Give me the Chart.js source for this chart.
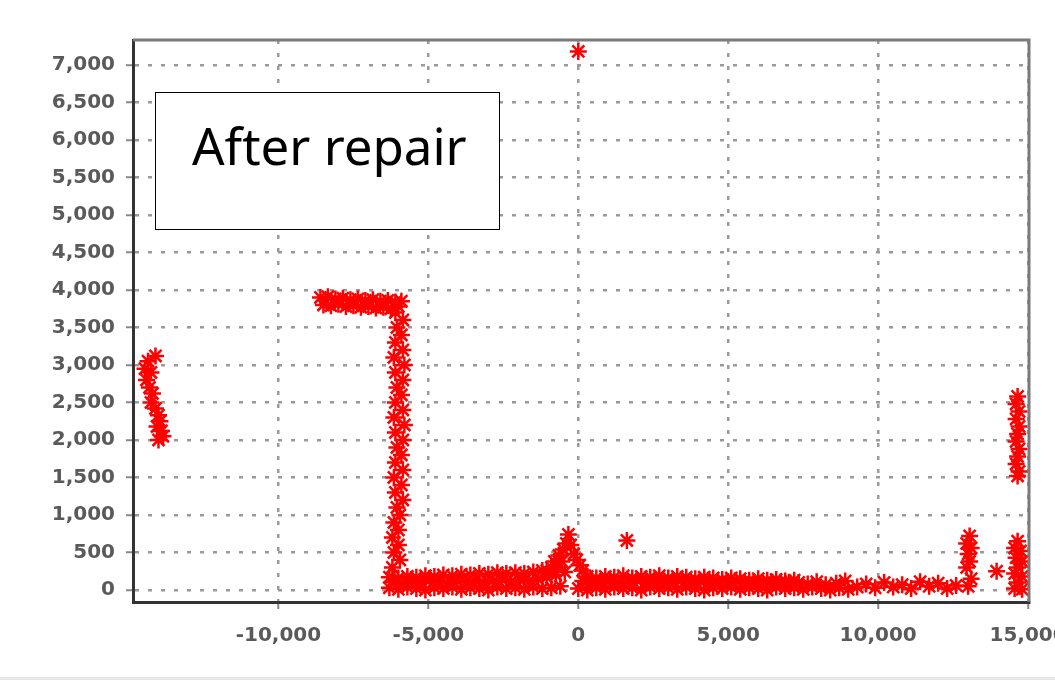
<!DOCTYPE html>
<html>
<head>
<meta charset="utf-8">
<script src="https://cdn.jsdelivr.net/npm/chart.js@4/dist/chart.umd.min.js"></script>
<style>
    html, body {
        margin: 0;
        padding: 0;
        width: 1055px;
        height: 680px;
        overflow: hidden;
        background: #ffffff;
    }
    #chart-wrap {
        position: absolute;
        left: 0;
        top: 0;
        width: 1100px;
        height: 680px;
        filter: blur(0.5px);
    }
    #label-box {
        position: absolute;
        left: 155px;
        top: 92px;
        width: 343px;
        height: 136px;
        border: 1px solid #000;
        background: #fff;
        z-index: 2;
    }
    #label-box span {
        position: absolute;
        left: 36px;
        top: 27px;
        font-family: 'Noto Sans', sans-serif;
        font-size: 51px;
        line-height: 1;
        color: #000;
        white-space: nowrap;
    }
    #bottom-strip {
        position: absolute;
        left: 0;
        top: 677px;
        width: 1055px;
        height: 3px;
        background: #e6e6e6;
    }
</style>
</head>
<body>
<div id="chart-wrap"><canvas id="scatter-chart"></canvas></div>
<div id="label-box"><span>After repair</span></div>
<div id="bottom-strip"></div>
<script>
// axis limits and tick values
const xMin = -14850;
const xMax = 15030;
const xTickValues = [-10000, -5000, 0, 5000, 10000, 15000];
const yMin = -160;
const yMax = 7333;
const yTickValues = [0, 500, 1000, 1500, 2000, 2500, 3000, 3500, 4000, 4500, 5000, 5500, 6000, 6500, 7000];

// clusters, [x, y]
const leftCluster = [
    [-14100, 3120], [-14350, 3050], [-14450, 2950], [-14250, 2900], [-14400, 2800],
    [-14300, 2700], [-14200, 2620], [-14250, 2500], [-14100, 2420], [-14000, 2330],
    [-13950, 2250], [-14050, 2180], [-13900, 2120], [-13850, 2050], [-14000, 2000]
];

const upperBand = [
    [-8600, 3900], [-8350, 3910], [-8100, 3880], [-7850, 3890], [-7600, 3870], [-7350, 3880],
    [-7100, 3860], [-6850, 3870], [-6600, 3850], [-6350, 3860], [-6100, 3840], [-5900, 3850],
    [-8500, 3800], [-8250, 3790], [-8000, 3810], [-7750, 3780], [-7500, 3790], [-7250, 3770],
    [-7000, 3780], [-6750, 3760], [-6500, 3770], [-6250, 3750], [-6000, 3780]
];

const verticalBand = [
    [-6100, 3700], [-6050, 3500], [-6100, 3300], [-6150, 3100], [-6100, 2900], [-6050, 2700],
    [-6100, 2500], [-6150, 2300], [-6100, 2100], [-6050, 1900], [-6100, 1700], [-6150, 1500],
    [-6100, 1300], [-6050, 1100], [-6150, 900], [-6200, 700], [-6150, 500], [-6200, 300],
    [-5850, 3600], [-5900, 3400], [-5850, 3200], [-5800, 3000], [-5850, 2800], [-5900, 2600],
    [-5850, 2400], [-5800, 2200], [-5850, 2000], [-5900, 1800], [-5850, 1600], [-5900, 1400],
    [-5850, 1200], [-5950, 1000], [-6000, 800], [-6000, 600], [-5950, 400]
];

const bottomLow = [
    [-6300, 30], [-6000, 10], [-5700, 40], [-5400, 20], [-5100, 0], [-4800, 30], [-4500, 20],
    [-4200, 40], [-3900, 10], [-3600, 30], [-3300, 20], [-3000, 0], [-2700, 40], [-2400, 20],
    [-2100, 30], [-1800, 10], [-1500, 40], [-1200, 20], [-900, 30], [-600, 50], [0, 20],
    [300, 0], [600, 30], [900, 10], [1200, 40], [1500, 20], [1800, 30], [2100, 0], [2400, 40],
    [2700, 20], [3000, 30], [3300, 10], [3600, 40], [3900, 20], [4200, 0], [4500, 30], [4800, 20],
    [5100, 40], [5400, 10], [5700, 30], [6000, 20], [6300, 0], [6600, 40], [6900, 20], [7200, 30],
    [7500, 10], [7800, 40], [8100, 20], [8400, 0], [8700, 30], [9000, 10], [9300, 40]
];

const bottomMid = [
    [-6150, 110], [-5850, 90], [-5550, 120], [-5250, 100], [-4950, 130], [-4650, 110], [-4350, 90],
    [-4050, 120], [-3750, 110], [-3450, 130], [-3150, 100], [-2850, 120], [-2550, 140], [-2250, 110],
    [-1950, 130], [-1650, 120], [-1350, 150], [-1050, 170], [-750, 200], [-450, 240], [150, 120],
    [450, 110], [750, 100], [1050, 120], [1350, 90], [1650, 110], [1950, 130], [2250, 100],
    [2550, 120], [2850, 90], [3150, 110], [3450, 130], [3750, 100], [4050, 120], [4350, 90],
    [4650, 110], [4950, 100], [5250, 120], [5550, 90], [5850, 110], [6150, 100], [6450, 80],
    [6750, 110], [7050, 90], [7350, 100], [7650, 80], [7950, 110], [8250, 70]
];

const bottomTop = [
    [-6300, 170], [-6000, 160], [-5700, 180], [-5400, 170], [-5100, 190], [-4800, 180], [-4500, 200],
    [-4200, 190], [-3900, 210], [-3600, 200], [-3300, 220], [-3000, 210], [-2700, 230], [-2400, 220],
    [-2100, 230], [-1800, 220], [-1500, 240], [-1200, 260], [-900, 300], [300, 180], [600, 160],
    [900, 180], [1200, 170], [1500, 190], [1800, 160], [2100, 180], [2400, 170], [2700, 190],
    [3000, 160], [3300, 180], [3600, 170], [3900, 150], [4200, 170], [4500, 160], [4800, 140],
    [5100, 160], [5400, 150], [5700, 130], [6000, 150], [6300, 130], [6600, 140], [6900, 120],
    [7200, 130]
];

const spike = [
    [-1050, 260], [-800, 380], [-700, 300], [-650, 460], [-550, 380], [-500, 540], [-400, 620],
    [-330, 740], [-250, 600], [-150, 480], [-50, 400], [50, 330], [150, 260], [250, 170], [350, 80]
];

const sparseTail = [
    [8600, 90], [8900, 120], [9600, 80], [9900, 30], [10200, 100], [10500, 40], [10800, 70],
    [11100, 20], [11400, 110], [11700, 50], [12000, 90], [12300, 20], [12600, 60]
];

const rightCluster = [
    [13050, 720], [12950, 620], [13100, 560], [13000, 480], [13050, 380], [12950, 300],
    [13100, 150], [13000, 50], [13950, 250]
];

const rightLowColumn = [
    [14650, 650], [14550, 560], [14750, 520], [14600, 430], [14800, 380], [14650, 300],
    [14550, 220], [14800, 180], [14650, 100], [14550, 20], [14800, 10]
];

const rightHighColumn = [
    [14650, 2580], [14600, 2480], [14700, 2380], [14600, 2280], [14700, 2180], [14650, 2080],
    [14600, 1980], [14700, 1880], [14650, 1780], [14600, 1680], [14700, 1580], [14650, 1520]
];

const outliers = [
    [0, 7180], [1620, 660]
];

let scatterChart = null;

document.addEventListener('DOMContentLoaded', () => {
    initScatterChart();
});

function toPoints(list) {
    return list.map(p => ({ x: p[0], y: p[1] }));
}

function useTicks(values) {
    return (scale) => {
        scale.ticks = values.map(v => ({ value: v }));
    };
}

// top and right frame lines (left/bottom come from the axes)
const frameLines = {
    id: 'frameLines',
    afterDraw(chart) {
        const { ctx, chartArea } = chart;
        ctx.save();
        ctx.strokeStyle = '#7a7a7a';
        ctx.lineWidth = 3;
        ctx.beginPath();
        ctx.moveTo(chartArea.left, chartArea.top);
        ctx.lineTo(chartArea.right, chartArea.top);
        ctx.lineTo(chartArea.right, chartArea.bottom);
        ctx.stroke();
        ctx.restore();
    }
};

function initScatterChart() {
    const ctx = document.getElementById('scatter-chart').getContext('2d');

    const allPoints = [].concat(
        leftCluster, upperBand, verticalBand, bottomLow, bottomMid, bottomTop,
        spike, sparseTail, rightCluster, rightLowColumn, rightHighColumn, outliers
    );

    const tickFont = { family: 'DejaVu Sans', size: 20, weight: 'bold' };
    const gridStyle = {
        color: '#9a9a9a',
        lineWidth: 2.5,
        tickLength: 7,
        tickColor: '#888',
        tickWidth: 2,
        tickBorderDash: []
    };
    const axisBorder = {
        color: '#333',
        width: 3,
        dash: [4, 9]
    };

    scatterChart = new Chart(ctx, {
        type: 'scatter',
        data: {
            datasets: [{
                label: 'After repair',
                data: toPoints(allPoints),
                pointStyle: 'star',
                radius: 8.5,
                borderColor: '#ff0000',
                backgroundColor: '#ff0000',
                borderWidth: 2.5
            }]
        },
        options: {
            responsive: true,
            maintainAspectRatio: false,
            animation: false,
            layout: {
                padding: { left: 10, right: 71, top: 40, bottom: 18 }
            },
            scales: {
                x: {
                    type: 'linear',
                    min: xMin,
                    max: xMax,
                    afterBuildTicks: useTicks(xTickValues),
                    afterFit: (scale) => { scale.height = 60; },
                    ticks: {
                        color: '#5a5a5a',
                        font: tickFont,
                        padding: 15,
                        maxRotation: 0,
                        autoSkip: false
                    },
                    grid: gridStyle,
                    border: axisBorder
                },
                y: {
                    type: 'linear',
                    min: yMin,
                    max: yMax,
                    afterBuildTicks: useTicks(yTickValues),
                    afterFit: (scale) => { scale.width = 123; },
                    ticks: {
                        color: '#5a5a5a',
                        font: tickFont,
                        padding: 11,
                        autoSkip: false
                    },
                    grid: gridStyle,
                    border: axisBorder
                }
            },
            plugins: {
                legend: {
                    display: false
                },
                tooltip: {
                    enabled: false
                }
            }
        },
        plugins: [frameLines]
    });
}
</script>
</body>
</html>
